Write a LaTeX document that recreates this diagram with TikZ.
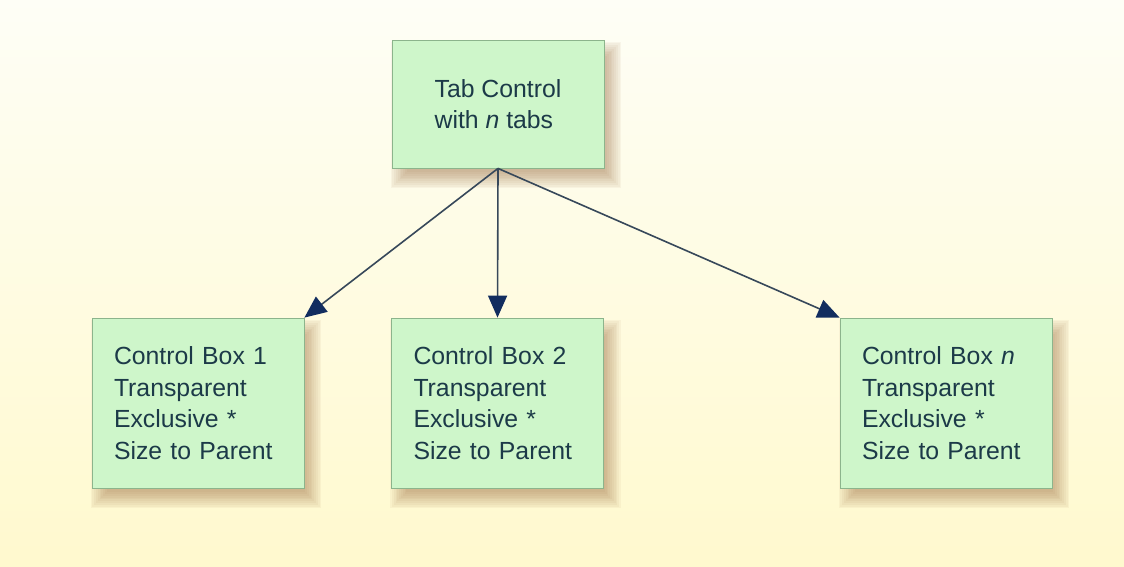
\documentclass[tikz,border=0pt]{standalone}
\usepackage{fontspec}
\setmainfont{Liberation Sans}
\usetikzlibrary{arrows.meta,calc,backgrounds}
\definecolor{bgtop}{RGB}{254,254,246}
\definecolor{bgbot}{RGB}{255,249,206}
\definecolor{boxfill}{RGB}{206,246,202}
\definecolor{boxline}{RGB}{140,180,140}
\definecolor{txt}{RGB}{28,58,72}
\definecolor{arrline}{RGB}{55,72,90}
\definecolor{arrhead}{RGB}{18,45,95}
\definecolor{shadowcol}{RGB}{150,100,55}
\pgfdeclarelayer{bglayer}
\pgfsetlayers{bglayer,background,main}
\tikzset{
  cbox/.style={draw=boxline, line width=0.8pt, fill=boxfill, text=txt,
    minimum width=212pt, minimum height=170pt, inner sep=0pt,
    align=left, text width=168pt,
    font=\fontsize{24.8}{31.5}\selectfont},
  topbox/.style={cbox, minimum height=128pt, text width=, align=left},
  shadowlayer/.style={fill=shadowcol, opacity=0.055},
  conn/.style={draw=arrline, line width=1.6pt, -{Triangle[length=22pt,width=19pt,color=arrhead]}}
}
\newcommand\myboxshadow[1]{%
  \begin{pgfonlayer}{background}
  \foreach \i in {0,...,9}{
    \fill[shadowlayer] ($(#1.north west)+(-1+1.8*\i,2+1.8*\i)$) rectangle ($(#1.south east)+(17-1.8*\i,20-1.8*\i)$);
  }
  \end{pgfonlayer}}
\begin{document}
\begin{tikzpicture}[x=1pt,y=-1pt]
\begin{pgfonlayer}{bglayer}
\shade[top color=bgtop, bottom color=bgbot] (0,0) rectangle (1124,567);
\end{pgfonlayer}
\useasboundingbox (0,0) rectangle (1124,567);
\node[topbox] (top) at (498,104) {Tab Control\\with \emph{n} tabs};
\node[cbox] (b1) at (198,403) {Control Box 1\\Transparent\\Exclusive *\\Size to Parent};
\node[cbox] (b2) at (497.5,403) {Control Box 2\\Transparent\\Exclusive *\\Size to Parent};
\node[cbox] (bn) at (946,403) {Control Box \emph{n}\\Transparent\\Exclusive *\\Size to Parent};
\myboxshadow{top}
\myboxshadow{b1}
\myboxshadow{b2}
\myboxshadow{bn}
\draw[conn] (top.south) -- (b1.north east);
\draw[conn] (top.south) -- (b2.north);
\draw[conn] (top.south) -- (bn.north west);
\end{tikzpicture}
\end{document}
